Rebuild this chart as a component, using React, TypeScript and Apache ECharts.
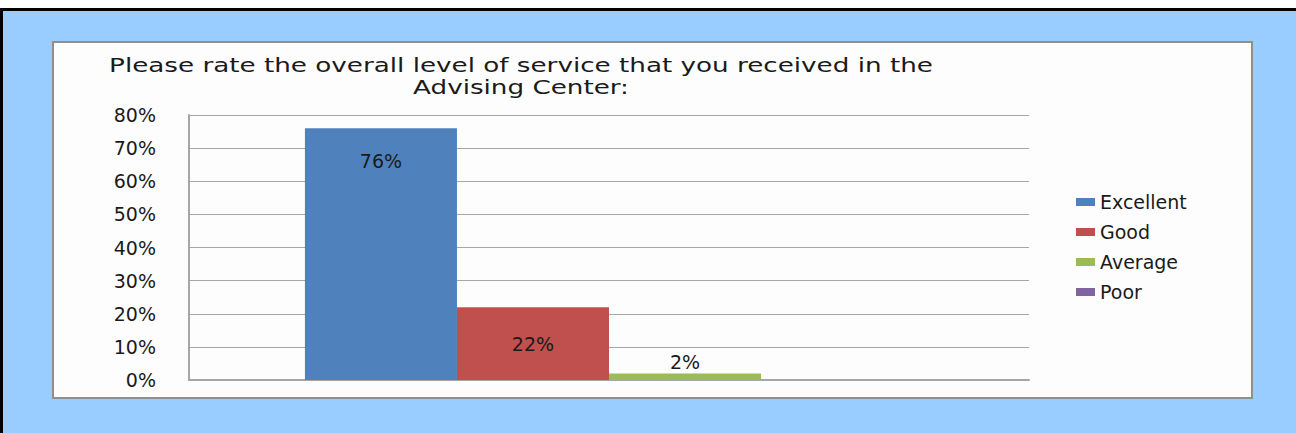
import React, { useEffect, useRef } from "react";
import * as echarts from "echarts";

const titleLines = [
  "Please rate the overall level of service that you received in the",
  "Advising Center:",
];
const categories = [""];
const seriesNames = ["Excellent", "Good", "Average", "Poor"];
const seriesValues = [76, 22, 2, 0];
const seriesColors = ["#4F81BD", "#C0504D", "#9BBB59", "#8064A2"];
const yTicks = [0, 10, 20, 30, 40, 50, 60, 70, 80];

const FONT = "DejaVu Sans";
const TEXT = "#1a1a1a";

export default function App() {
  const ref = useRef<HTMLDivElement>(null);
  useEffect(() => {
    if (!ref.current) return;
    const chart = echarts.init(ref.current, undefined, { renderer: "svg" });
    const labelPos: any[] = [
      { show: true, position: "insideTop", distance: 23 },
      { show: true, position: "inside" },
      { show: true, position: "top", distance: 2 },
      { show: false },
    ];
    chart.setOption({
      animation: false,
      backgroundColor: "transparent",
      textStyle: { fontFamily: FONT },
      graphic: [
        {
          type: "text",
          x: 521,
          y: 76,
          scaleX: 1.38,
          style: {
            text: titleLines.join("\n"),
            font: `19px '${FONT}'`,
            fill: TEXT,
            align: "center",
            verticalAlign: "middle",
            lineHeight: 22,
          },
        },
      ],
      legend: {
        orient: "vertical",
        left: 1071,
        top: 187,
        icon: "rect",
        itemWidth: 19,
        itemHeight: 8,
        itemGap: 10,
        data: seriesNames,
        textStyle: { fontSize: 19, color: TEXT, fontFamily: FONT, lineHeight: 20 },
      },
      grid: { left: 189, right: 267, top: 115, bottom: 53, containLabel: false },
      xAxis: {
        type: "category",
        data: categories,
        axisLine: { show: true, lineStyle: { color: "#a6a6a6", width: 2 } },
        axisTick: { show: false },
        axisLabel: { show: false },
      },
      yAxis: {
        type: "value",
        min: yTicks[0],
        max: yTicks[yTicks.length - 1],
        interval: 10,
        axisLine: { show: true, lineStyle: { color: "#a6a6a6", width: 2 } },
        axisTick: { show: false },
        splitLine: { show: true, lineStyle: { color: "#a6a6a6", width: 1 } },
        axisLabel: {
          formatter: "{value}%",
          fontSize: 19,
          color: TEXT,
          fontFamily: FONT,
          margin: 33,
        },
      },
      series: seriesNames.map((name, i) => ({
        name,
        type: "bar",
        data: [seriesValues[i]],
        barGap: "0%",
        barCategoryGap: "27.6%",
        itemStyle: { color: seriesColors[i] },
        label: {
          ...labelPos[i],
          formatter: "{c}%",
          fontSize: 19,
          color: TEXT,
          fontFamily: FONT,
        },
      })),
    });
    return () => chart.dispose();
  }, []);

  return (
    <div style={{ position: "fixed", left: 0, top: 0, width: 1296, height: 433, background: "#fff" }}>
      <div
        style={{
          position: "absolute",
          left: 0,
          top: 8,
          width: 1296,
          height: 425,
          background: "#99CCFF",
          borderTop: "3px solid #000",
          borderLeft: "3px solid #000",
          boxSizing: "border-box",
        }}
      />
      <div
        style={{
          position: "absolute",
          left: 52,
          top: 41,
          width: 1201,
          height: 358,
          background: "#fdfdfd",
          border: "2px solid #8f8f8f",
          boxSizing: "border-box",
        }}
      />
      <div ref={ref} style={{ position: "absolute", left: 0, top: 0, width: 1296, height: 433 }} />
    </div>
  );
}
